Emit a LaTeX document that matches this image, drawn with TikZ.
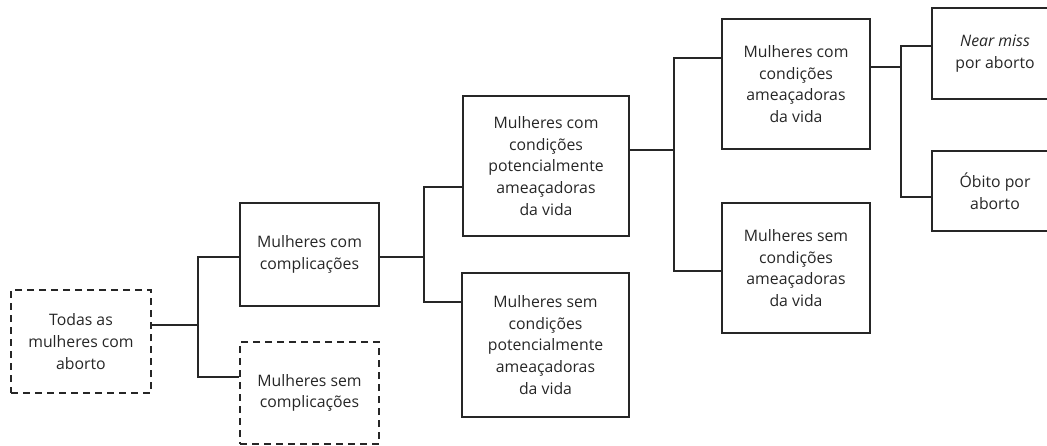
\documentclass[tikz,border=0pt]{standalone}
\usepackage{fontspec}
\setmainfont{Open Sans}
\begin{document}
\begin{tikzpicture}[x=1pt,y=-1pt,
  box/.style={draw=black!85, line width=1.3pt, rectangle, inner sep=0pt, align=center,
    font=\fontsize{15.8}{21.7}\selectfont, text=black!85},
  dbox/.style={box, dash pattern=on 7pt off 5pt},
  conn/.style={draw=black!85, line width=1.3pt}]
\useasboundingbox (0,0) rectangle (1047,445);
\clip (0,0) rectangle (1047,445);
\node[dbox, minimum width=140pt, minimum height=103pt] (A) at (81,341.5) {Todas as\\mulheres com\\aborto};
\node[box, minimum width=139pt, minimum height=103pt] (B) at (309.5,254.5) {Mulheres com\\complicações};
\node[dbox, minimum width=139pt, minimum height=102pt] (C) at (309.5,393) {Mulheres sem\\complicações};
\node[box, minimum width=166pt, minimum height=140pt] (D) at (546,166) {Mulheres com\\condições\\potencialmente\\ameaçadoras\\da vida};
\node[box, minimum width=167pt, minimum height=144pt] (E) at (545.5,345) {Mulheres sem\\condições\\potencialmente\\ameaçadoras\\da vida};
\node[box, minimum width=148pt, minimum height=130pt] (F) at (796,84) {Mulheres com\\condições\\ameaçadoras\\da vida};
\node[box, minimum width=148pt, minimum height=130pt] (I) at (796,268) {Mulheres sem\\condições\\ameaçadoras\\da vida};
\node[box, minimum width=126pt, minimum height=91pt] (G) at (995,53.5) {\textit{Near miss}\\por aborto};
\node[box, minimum width=126pt, minimum height=80pt] (H) at (995,191) {Óbito por\\aborto};
% junctions
\coordinate (j1) at (198,325);
\coordinate (j1t) at (198,257);
\coordinate (j1b) at (198,377);
\coordinate (j2) at (424,257);
\coordinate (j2t) at (424,187);
\coordinate (j2b) at (424,302);
\coordinate (j3) at (674,150);
\coordinate (j3t) at (674,58);
\coordinate (j3b) at (674,271);
\coordinate (j4) at (901,67);
\coordinate (j4t) at (901,46);
\coordinate (j4b) at (901,197);
\draw[conn] (A.east |- j1) -- (j1);
\draw[conn] (j1t -| B.west) -- (j1t) -- (j1b) -- (j1b -| C.west);
\draw[conn] (B.east |- j2) -- (j2);
\draw[conn] (j2t -| D.west) -- (j2t) -- (j2b) -- (j2b -| E.west);
\draw[conn] (D.east |- j3) -- (j3);
\draw[conn] (j3t -| F.west) -- (j3t) -- (j3b) -- (j3b -| I.west);
\draw[conn] (F.east |- j4) -- (j4);
\draw[conn] (j4t -| G.west) -- (j4t) -- (j4b) -- (j4b -| H.west);
\end{tikzpicture}
\end{document}
